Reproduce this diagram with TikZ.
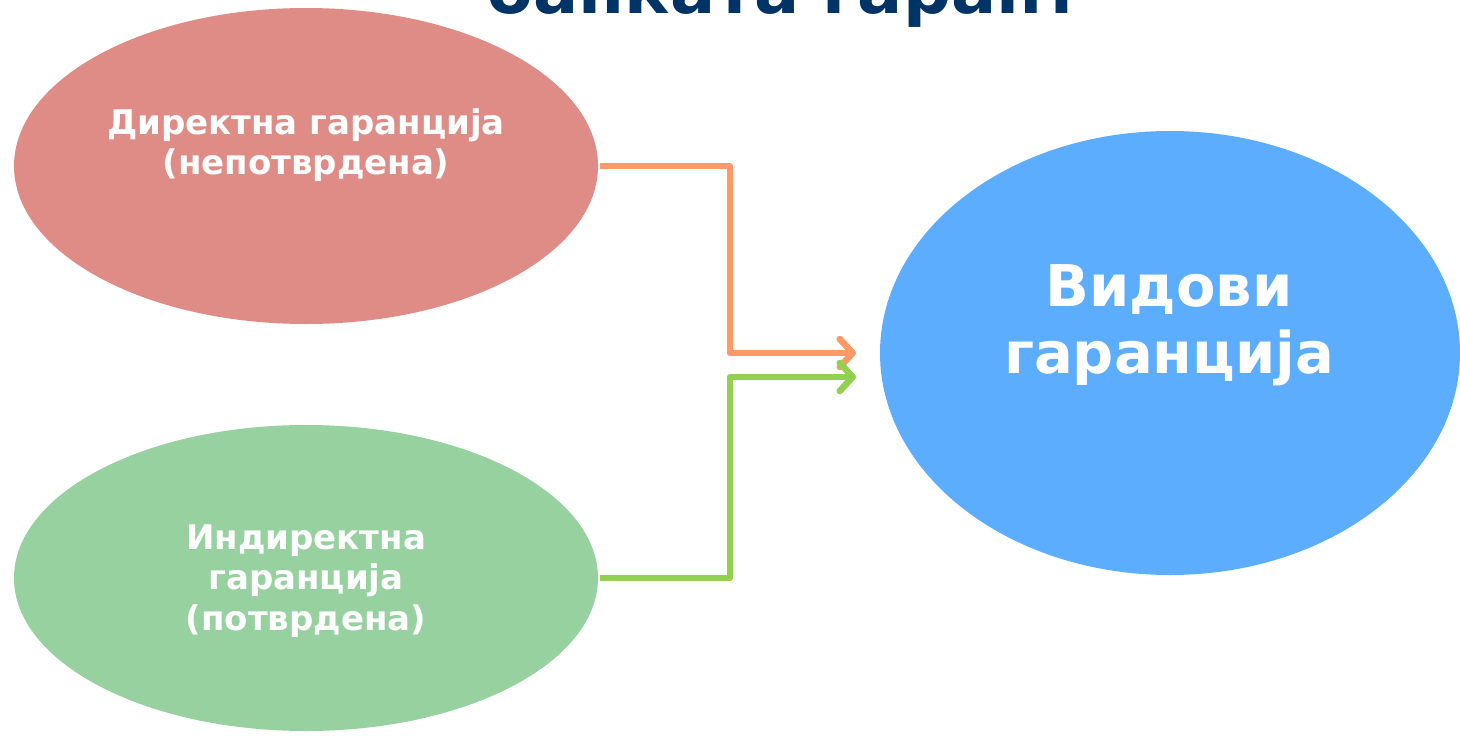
\documentclass[tikz,border=0pt]{standalone}
\usepackage{fontspec}
\setmainfont{DejaVu Sans}
\usetikzlibrary{arrows.meta}
\definecolor{cred}{HTML}{DF8C86}
\definecolor{cgreen}{HTML}{98D1A0}
\definecolor{cblue}{HTML}{5DADFF}
\definecolor{corange}{HTML}{FF9966}
\definecolor{clime}{HTML}{92D050}
\definecolor{ctitle}{HTML}{003366}
\tikzset{
  small/.style={text=white, align=center, font=\bfseries\fontsize{34}{40.5}\selectfont},
  big/.style={text=white, align=center, font=\bfseries\fontsize{57.5}{67}\selectfont},
  conn/.style={line width=6.5pt, line join=round, -{Straight Barb[length=13pt,width=28pt,round]}},
}
\begin{document}
\begin{tikzpicture}[x=1pt,y=-1pt]
\useasboundingbox (0,0) rectangle (1460,736);
\clip (0,0) rectangle (1460,736);
\fill[white] (0,0) rectangle (1460,736);
\node[font=\bfseries\fontsize{67}{75}\selectfont, text=ctitle, anchor=base] (title) at (784,13) {банката гарант};
\fill[cred] (306,166) ellipse [x radius=292, y radius=158];
\fill[cgreen] (306,578) ellipse [x radius=292, y radius=153];
\fill[cblue] (1170,353) ellipse [x radius=290, y radius=222];
\coordinate (a) at (600,166);
\coordinate (b) at (600,578);
\coordinate (ta) at (856,353);
\coordinate (tb) at (856,377);
\node[small] (t1) at (306,145) {Директна гаранција\\(непотврдена)};
\node[small] (t2) at (306,581) {Индиректна\\гаранција\\(потврдена)};
\node[big] (t3) at (1169,325) {Видови\\гаранција};
\draw[conn, draw=corange] (a) -- (730,166) -- (730,353) -- (ta);
\draw[conn, draw=clime] (b) -- (730,578) -- (730,377) -- (tb);
\end{tikzpicture}
\end{document}
